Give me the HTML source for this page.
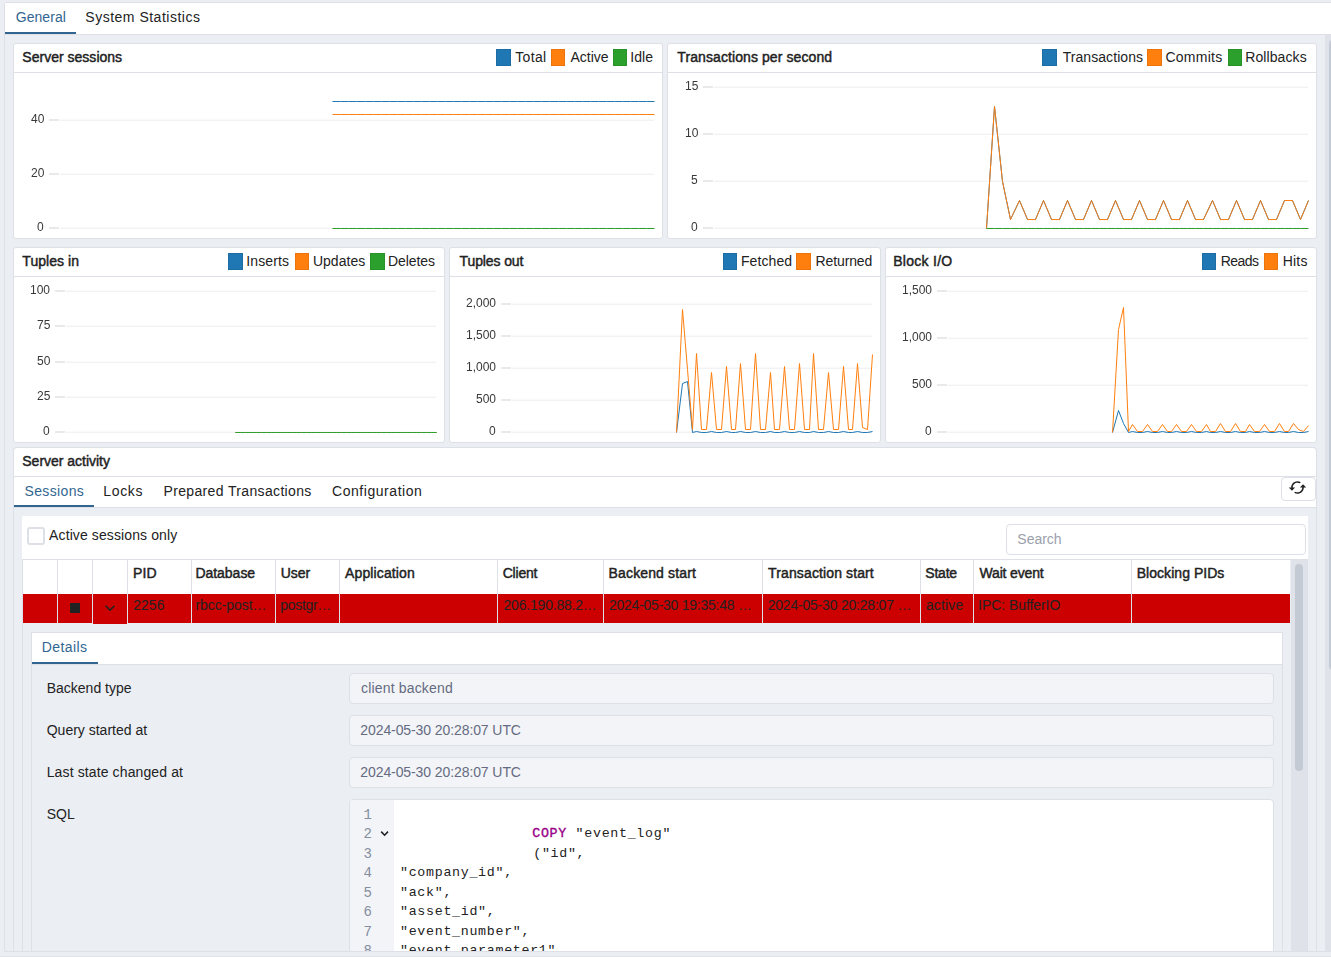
<!DOCTYPE html>
<html><head><meta charset="utf-8">
<style>
*{box-sizing:border-box}
html,body{margin:0;padding:0}
body{width:1331px;height:957px;overflow:hidden;position:relative;background:#ebeef3;font-family:"Liberation Sans",sans-serif;font-size:14px;color:#222}
.abs{position:absolute}
.t{position:absolute;white-space:nowrap;line-height:16px}
.panel{position:absolute;left:4px;top:2px;width:1340px;height:950px;border:1px solid #dde0e6;border-radius:2px;background:#ebeef3;overflow:hidden}
.tabbar{position:absolute;left:5px;top:3px;width:1326px;height:32px;background:#fff;border-bottom:1px solid #dde0e6}
.card{position:absolute;background:#fff;border:1px solid #dde0e6;border-radius:3px;box-sizing:content-box}
.chd{position:absolute;left:0;top:0;right:0;height:29px;border-bottom:1px solid #dde0e6}
.ttl{position:absolute;font-weight:normal;-webkit-text-stroke:0.45px #222;letter-spacing:-0.1px;line-height:16px;white-space:nowrap}
.sw{position:absolute;width:15px;height:17px;box-shadow:inset 0 0 0 1px rgba(0,0,0,0.08)}
.lt{position:absolute;line-height:16px;letter-spacing:0.3px;white-space:nowrap}
.ov{position:absolute;left:0;top:0;pointer-events:none}
.ax{position:absolute;font-size:12px;line-height:15px;color:#383838;white-space:nowrap;text-align:right;will-change:transform}
.tab{position:absolute;white-space:nowrap;line-height:16px;letter-spacing:0.3px}
.hd{position:absolute;white-space:nowrap;line-height:16px;font-weight:normal;-webkit-text-stroke:0.45px #222;letter-spacing:-0.1px}
.cell{position:absolute;white-space:nowrap;line-height:16px}
.vl{position:absolute;width:1px;background:#dde0e6}
.hl{position:absolute;height:1px;background:#dde0e6}
.field{position:absolute;left:349px;width:925px;height:31px;background:#f3f4f7;border:1px solid #dde0e6;border-radius:4px}
.fv{position:absolute;line-height:16px;color:#646b82;white-space:nowrap}
.lbl{position:absolute;line-height:16px;white-space:nowrap}
.code{position:absolute;font-family:"Liberation Mono",monospace;font-size:13.3px;line-height:19.47px;white-space:pre;color:#222;letter-spacing:0.7px}
.ln{position:absolute;font-family:"Liberation Mono",monospace;font-size:14px;line-height:19.47px;color:#848ea0;text-align:right;width:30px;white-space:pre}
</style></head><body>
<div class="panel"></div>
<div class="tabbar"></div>
<!-- top tabs -->
<div class="abs" style="left:5px;top:32px;width:71px;height:2px;background:#326690"></div>
<div id="tab_general" class="tab" style="left:15.71px;top:9px;letter-spacing:0.066px;color:#326690">General</div><div id="tab_sys" class="tab" style="left:85.30px;top:9px;letter-spacing:0.502px;">System Statistics</div>
<!-- page scrollbar -->
<div class="abs" style="left:1325px;top:35px;width:6px;height:916px;background:#dfe2e8"></div>
<div class="abs" style="left:1329px;top:39.5px;width:8px;height:630.5px;background:#c4cad3;border-radius:4px"></div>

<div class="card" style="left:13px;top:43px;width:648px;height:194px"><div class="chd"></div></div><div class="card" style="left:667px;top:43px;width:648px;height:194px"><div class="chd"></div></div><div class="card" style="left:13px;top:247px;width:430px;height:194px"><div class="chd"></div></div><div class="card" style="left:449px;top:247px;width:430px;height:194px"><div class="chd"></div></div><div class="card" style="left:885px;top:247px;width:430px;height:194px"><div class="chd"></div></div><div id="ttl1" class="ttl" style="left:22.30px;top:49px;letter-spacing:0.016px;">Server sessions</div><div id="ttl2" class="ttl" style="left:677.30px;top:49px;letter-spacing:0.091px;">Transactions per second</div><div id="ttl3" class="ttl" style="left:22.30px;top:253px;letter-spacing:0.050px;">Tuples in</div><div id="ttl4" class="ttl" style="left:459.61px;top:253px;letter-spacing:-0.124px;">Tuples out</div><div id="ttl5" class="ttl" style="left:893.21px;top:253px;letter-spacing:0.275px;">Block I/O</div><div class="sw" style="left:496px;width:15px;top:49px;background:#1f77b4"></div><div id="lg1a" class="lt" style="left:515.21px;top:49px;letter-spacing:0.350px;">Total</div><div class="sw" style="left:551px;width:14px;top:49px;background:#ff7f0e"></div><div id="lg1b" class="lt" style="left:570.50px;top:49px;letter-spacing:-0.020px;">Active</div><div class="sw" style="left:613px;width:14px;top:49px;background:#2ca02c"></div><div id="lg1c" class="lt" style="left:630.30px;top:49px;letter-spacing:0.034px;">Idle</div><div class="sw" style="left:1042px;width:15px;top:49px;background:#1f77b4"></div><div id="lg2a" class="lt" style="left:1062.71px;top:49px;letter-spacing:0.061px;">Transactions</div><div class="sw" style="left:1147px;width:15px;top:49px;background:#ff7f0e"></div><div id="lg2b" class="lt" style="left:1165.41px;top:49px;letter-spacing:0.269px;">Commits</div><div class="sw" style="left:1228px;width:14px;top:49px;background:#2ca02c"></div><div id="lg2c" class="lt" style="left:1245.30px;top:49px;letter-spacing:0.081px;">Rollbacks</div><div class="sw" style="left:228px;width:15px;top:253px;background:#1f77b4"></div><div id="lg3a" class="lt" style="left:246.30px;top:253px;letter-spacing:0.134px;">Inserts</div><div class="sw" style="left:295px;width:14px;top:253px;background:#ff7f0e"></div><div id="lg3b" class="lt" style="left:312.91px;top:253px;letter-spacing:0.031px;">Updates</div><div class="sw" style="left:370px;width:15px;top:253px;background:#2ca02c"></div><div id="lg3c" class="lt" style="left:388.11px;top:253px;letter-spacing:-0.101px;">Deletes</div><div class="sw" style="left:723px;width:14px;top:253px;background:#1f77b4"></div><div id="lg4a" class="lt" style="left:740.91px;top:253px;letter-spacing:0.102px;">Fetched</div><div class="sw" style="left:796px;width:15px;top:253px;background:#ff7f0e"></div><div id="lg4b" class="lt" style="left:815.61px;top:253px;letter-spacing:-0.128px;">Returned</div><div class="sw" style="left:1202px;width:14px;top:253px;background:#1f77b4"></div><div id="lg5a" class="lt" style="left:1220.80px;top:253px;letter-spacing:-0.550px;">Reads</div><div class="sw" style="left:1264px;width:14px;top:253px;background:#ff7f0e"></div><div id="lg5b" class="lt" style="left:1282.80px;top:253px;letter-spacing:0.167px;">Hits</div>

<!-- server activity card -->
<div class="card" style="left:13px;top:447px;width:1302px;height:520px;background:#ebeef3">
  <div class="chd" style="background:#fff;height:29px;border-radius:4px 4px 0 0"></div>
  <div class="abs" style="left:0;top:29px;width:1302px;height:31px;background:#fff;border-bottom:1px solid #dde0e6"></div>
</div>
<div class="abs" style="left:14px;top:505px;width:80px;height:2px;background:#326690"></div>
<div class="abs" style="left:1281px;top:477px;width:35px;height:24px;border:1px solid #dde0e6;border-radius:4px;background:#fff"></div>
<svg class="abs" style="left:1288.4px;top:478.4px" width="19" height="19" viewBox="0 0 24 24"><path fill="#222" d="M19 8l-4 4h3c0 3.31-2.69 6-6 6-1.01 0-1.97-.25-2.8-.7l-1.46 1.46C8.97 19.54 10.43 20 12 20c4.42 0 8-3.58 8-8h3l-4-4zM6 12c0-3.31 2.69-6 6-6 1.01 0 1.970.25 2.8.7l1.46-1.46C15.03 4.46 13.57 4 12 4c-4.42 0-8 3.58-8 8H1l4 4 4-4H6z"/></svg>

<!-- toolbar panel -->
<div class="abs" style="left:22px;top:516px;width:1286px;height:43px;background:#fff"></div>
<div class="abs" style="left:27px;top:527px;width:18px;height:18px;border:2px solid #dde0e6;border-radius:3px;background:#fff"></div>
<div class="abs" style="left:1006px;top:524px;width:300px;height:31px;border:1px solid #dde0e6;border-radius:4px;background:#fff"></div>


<!-- table -->
<div class="abs" style="left:22px;top:559px;width:1286px;height:400px;background:#ebeef3;border-left:1px solid #dde0e6;border-top:1px solid #dde0e6"></div>
<div class="abs" style="left:23px;top:560px;width:1267px;height:34px;background:#fff"></div>
<div class="abs" style="left:23px;top:594px;width:1267px;height:29px;background:#cc0000"></div>
<div class="abs" style="left:93px;top:594px;width:34px;height:30px;background:#cc0000"></div>
<!-- inner scrollbar -->
<div class="abs" style="left:1291px;top:560px;width:16px;height:400px;background:#dfe3e9;border-right:1px solid #dde0e6;box-sizing:content-box"></div>
<div class="abs" style="left:1295px;top:564px;width:8px;height:207px;background:#c4cad3;border-radius:4px"></div>
<div class="vl" style="left:57px;top:560px;height:63px"></div><div class="vl" style="left:92px;top:560px;height:63px"></div><div class="vl" style="left:127px;top:560px;height:63px"></div><div class="vl" style="left:191px;top:560px;height:63px"></div><div class="vl" style="left:275px;top:560px;height:63px"></div><div class="vl" style="left:339px;top:560px;height:63px"></div><div class="vl" style="left:497px;top:560px;height:63px"></div><div class="vl" style="left:603px;top:560px;height:63px"></div><div class="vl" style="left:762px;top:560px;height:63px"></div><div class="vl" style="left:920px;top:560px;height:63px"></div><div class="vl" style="left:973px;top:560px;height:63px"></div><div class="vl" style="left:1131px;top:560px;height:63px"></div><div id="h_pid" class="hd" style="left:132.91px;top:565px;letter-spacing:0.200px;">PID</div><div id="h_db" class="hd" style="left:195.41px;top:565px;letter-spacing:-0.029px;">Database</div><div id="h_user" class="hd" style="left:280.71px;top:565px;letter-spacing:0.000px;">User</div><div id="h_app" class="hd" style="left:345.11px;top:565px;letter-spacing:0.110px;">Application</div><div id="h_client" class="hd" style="left:502.71px;top:565px;letter-spacing:-0.200px;">Client</div><div id="h_bs" class="hd" style="left:608.61px;top:565px;letter-spacing:0.135px;">Backend start</div><div id="h_ts" class="hd" style="left:768.11px;top:565px;letter-spacing:0.119px;">Transaction start</div><div id="h_state" class="hd" style="left:925.30px;top:565px;letter-spacing:-0.225px;">State</div><div id="h_wait" class="hd" style="left:979.50px;top:565px;letter-spacing:-0.156px;">Wait event</div><div id="h_block" class="hd" style="left:1136.71px;top:565px;letter-spacing:0.042px;">Blocking PIDs</div><div id="r_pid" class="cell" style="left:133.30px;top:597px;letter-spacing:0.000px;">2256</div><div id="r_db" class="cell" style="left:195.41px;top:597px;letter-spacing:-0.042px;">rbcc-post…</div><div id="r_user" class="cell" style="left:280.21px;top:597px;letter-spacing:-0.297px;">postgr…</div><div id="r_client" class="cell" style="left:503.50px;top:597px;letter-spacing:-0.199px;">206.190.88.2…</div><div id="r_bs" class="cell" style="left:609.00px;top:597px;letter-spacing:-0.250px;">2024-05-30 19:35:48 …</div><div id="r_ts" class="cell" style="left:767.71px;top:597px;letter-spacing:-0.210px;">2024-05-30 20:28:07 …</div><div id="r_state" class="cell" style="left:925.91px;top:597px;letter-spacing:0.160px;">active</div><div id="r_wait" class="cell" style="left:978.11px;top:597px;letter-spacing:-0.065px;">IPC: BufferIO</div>
<div class="abs" style="left:70px;top:603px;width:10px;height:10px;background:#222"></div>
<svg class="abs" style="left:100px;top:598px" width="20" height="20" viewBox="0 0 24 24"><path fill="#222" d="M7.41 8.59 12 13.17l4.59-4.58L18 10l-6 6-6-6 1.41-1.41z"/></svg>

<!-- details panel -->
<div class="abs" style="left:31px;top:632px;width:1252px;height:400px;border:1px solid #dde0e6;background:#ebeef3"></div>
<div class="abs" style="left:32px;top:633px;width:1250px;height:32px;background:#fff;border-bottom:1px solid #dde0e6"></div>
<div class="abs" style="left:32px;top:662px;width:66px;height:2px;background:#326690"></div>


<div class="field" style="top:673px"></div>

<div class="field" style="top:715px"></div>

<div class="field" style="top:757px"></div>

<div class="abs" style="left:349px;top:799px;width:925px;height:200px;border:1px solid #dde0e6;border-radius:4px;background:#fff;overflow:hidden">
  <div class="abs" style="left:0;top:0;width:44px;height:200px;background:#f3f4f7"></div>
</div>
<div class="ln" style="left:342px;top:806px">1
2
3
4
5
6
7
8</div>
<svg class="abs" style="left:376px;top:826px" width="16" height="16" viewBox="376 826 16 16"><polyline fill="none" stroke="#222" stroke-width="1.6" points="381.2,831.6 384.6,835.2 388,831.6"/></svg>
<div class="code" style="left:400px;top:805px">
               <span style="color:#990088;margin-left:2px;-webkit-text-stroke:0.35px #990088">COPY</span> "event_log"
               <span style="margin-left:3px">("id",</span>
"company_id",
"ack",
"asset_id",
"event_number",
"event_parameter1",</div>

<div id="ttl_sa" class="ttl" style="left:22.30px;top:453px;letter-spacing:-0.020px;">Server activity</div><div id="tab_sess" class="tab" style="left:24.50px;top:483px;letter-spacing:0.361px;color:#326690">Sessions</div><div id="tab_locks" class="tab" style="left:103.30px;top:483px;letter-spacing:0.650px;">Locks</div><div id="tab_prep" class="tab" style="left:163.50px;top:483px;letter-spacing:0.350px;">Prepared Transactions</div><div id="tab_conf" class="tab" style="left:332.00px;top:483px;letter-spacing:0.550px;">Configuration</div><div id="t_aso" class="t" style="left:49.11px;top:527px;letter-spacing:0.106px;">Active sessions only</div><div id="t_search" class="t" style="left:1017.30px;top:531px;letter-spacing:0.000px;color:#9a9fab">Search</div>
<div id="tab_det" class="tab" style="left:41.71px;top:639px;letter-spacing:0.435px;color:#326690">Details</div><div id="l_bt" class="lbl" style="left:46.71px;top:680px;letter-spacing:-0.000px;">Backend type</div><div id="l_qs" class="lbl" style="left:46.71px;top:722px;letter-spacing:-0.000px;">Query started at</div><div id="l_ls" class="lbl" style="left:46.71px;top:764px;letter-spacing:0.120px;">Last state changed at</div><div id="l_sql" class="lbl" style="left:46.71px;top:806px;letter-spacing:0.000px;">SQL</div><div id="v_bt" class="fv" style="left:361.00px;top:680px;letter-spacing:0.167px;">client backend</div><div id="v_qs" class="fv" style="left:360.30px;top:722px;letter-spacing:-0.091px;">2024-05-30 20:28:07 UTC</div><div id="v_ls" class="fv" style="left:360.30px;top:764px;letter-spacing:-0.091px;">2024-05-30 20:28:07 UTC</div>
<svg class="ov" width="1331" height="957" viewBox="0 0 1331 957"><rect x="49" y="119" width="10" height="2" fill="#e9e9e9"/><rect x="60" y="120" width="594" height="1" fill="#f1f2f5"/><rect x="60" y="119" width="594" height="1" fill="#fafafb"/><rect x="49" y="173" width="10" height="2" fill="#e9e9e9"/><rect x="60" y="174" width="594" height="1" fill="#f1f2f5"/><rect x="60" y="173" width="594" height="1" fill="#fafafb"/><rect x="49" y="227" width="10" height="2" fill="#e9e9e9"/><rect x="60" y="228" width="594" height="1" fill="#f1f2f5"/><rect x="60" y="227" width="594" height="1" fill="#fafafb"/><polyline fill="none" stroke="#1f77b4" stroke-width="1" stroke-linejoin="round" points="332.5,101.5 340.5,101.5 348.5,101.5 356.5,101.5 365.5,101.5 373.5,101.5 381.5,101.5 389.5,101.5 397.5,101.5 405.5,101.5 413.5,101.5 421.5,101.5 429.5,101.5 437.5,101.5 445.5,101.5 453.5,101.5 461.5,101.5 469.5,101.5 477.5,101.5 485.5,101.5 493.5,101.5 501.5,101.5 509.5,101.5 517.5,101.5 525.5,101.5 533.5,101.5 541.5,101.5 549.5,101.5 558.5,101.5 566.5,101.5 574.5,101.5 582.5,101.5 590.5,101.5 598.5,101.5 606.5,101.5 614.5,101.5 622.5,101.5 630.5,101.5 638.5,101.5 646.5,101.5 654.5,101.5"/><polyline fill="none" stroke="#ff7f0e" stroke-width="1" stroke-linejoin="round" points="332.5,114.5 340.5,114.5 348.5,114.5 356.5,114.5 365.5,114.5 373.5,114.5 381.5,114.5 389.5,114.5 397.5,114.5 405.5,114.5 413.5,114.5 421.5,114.5 429.5,114.5 437.5,114.5 445.5,114.5 453.5,114.5 461.5,114.5 469.5,114.5 477.5,114.5 485.5,114.5 493.5,114.5 501.5,114.5 509.5,114.5 517.5,114.5 525.5,114.5 533.5,114.5 541.5,114.5 549.5,114.5 558.5,114.5 566.5,114.5 574.5,114.5 582.5,114.5 590.5,114.5 598.5,114.5 606.5,114.5 614.5,114.5 622.5,114.5 630.5,114.5 638.5,114.5 646.5,114.5 654.5,114.5"/><polyline fill="none" stroke="#2ca02c" stroke-width="1" stroke-linejoin="round" points="332.5,228.5 340.5,228.5 348.5,228.5 356.5,228.5 365.5,228.5 373.5,228.5 381.5,228.5 389.5,228.5 397.5,228.5 405.5,228.5 413.5,228.5 421.5,228.5 429.5,228.5 437.5,228.5 445.5,228.5 453.5,228.5 461.5,228.5 469.5,228.5 477.5,228.5 485.5,228.5 493.5,228.5 501.5,228.5 509.5,228.5 517.5,228.5 525.5,228.5 533.5,228.5 541.5,228.5 549.5,228.5 558.5,228.5 566.5,228.5 574.5,228.5 582.5,228.5 590.5,228.5 598.5,228.5 606.5,228.5 614.5,228.5 622.5,228.5 630.5,228.5 638.5,228.5 646.5,228.5 654.5,228.5"/><rect x="703" y="86" width="10" height="2" fill="#e9e9e9"/><rect x="714" y="87" width="594" height="1" fill="#f1f2f5"/><rect x="714" y="86" width="594" height="1" fill="#fafafb"/><rect x="703" y="133" width="10" height="2" fill="#e9e9e9"/><rect x="714" y="134" width="594" height="1" fill="#f1f2f5"/><rect x="714" y="133" width="594" height="1" fill="#fafafb"/><rect x="703" y="180" width="10" height="2" fill="#e9e9e9"/><rect x="714" y="181" width="594" height="1" fill="#f1f2f5"/><rect x="714" y="180" width="594" height="1" fill="#fafafb"/><rect x="703" y="227" width="10" height="2" fill="#e9e9e9"/><rect x="714" y="228" width="594" height="1" fill="#f1f2f5"/><rect x="714" y="227" width="594" height="1" fill="#fafafb"/><polyline fill="none" stroke="#1f77b4" stroke-width="1" stroke-linejoin="round" points="986.5,228.5 994.5,106.5 1002.5,181.5 1010.5,219.5 1019.5,200.5 1027.5,219.5 1035.5,219.5 1043.5,200.5 1051.5,219.5 1059.5,219.5 1067.5,200.5 1075.5,219.5 1083.5,219.5 1091.5,200.5 1099.5,219.5 1107.5,219.5 1115.5,200.5 1123.5,219.5 1131.5,219.5 1139.5,200.5 1147.5,219.5 1155.5,219.5 1163.5,200.5 1171.5,219.5 1179.5,219.5 1187.5,200.5 1195.5,219.5 1203.5,219.5 1212.5,200.5 1220.5,219.5 1228.5,219.5 1236.5,200.5 1244.5,219.5 1252.5,219.5 1260.5,200.5 1268.5,219.5 1276.5,219.5 1284.5,200.5 1292.5,200.5 1300.5,219.5 1308.5,200.5"/><polyline fill="none" stroke="#ff7f0e" stroke-width="1" stroke-linejoin="round" points="986.5,228.5 994.5,106.5 1002.5,181.5 1010.5,219.5 1019.5,200.5 1027.5,219.5 1035.5,219.5 1043.5,200.5 1051.5,219.5 1059.5,219.5 1067.5,200.5 1075.5,219.5 1083.5,219.5 1091.5,200.5 1099.5,219.5 1107.5,219.5 1115.5,200.5 1123.5,219.5 1131.5,219.5 1139.5,200.5 1147.5,219.5 1155.5,219.5 1163.5,200.5 1171.5,219.5 1179.5,219.5 1187.5,200.5 1195.5,219.5 1203.5,219.5 1212.5,200.5 1220.5,219.5 1228.5,219.5 1236.5,200.5 1244.5,219.5 1252.5,219.5 1260.5,200.5 1268.5,219.5 1276.5,219.5 1284.5,200.5 1292.5,200.5 1300.5,219.5 1308.5,200.5"/><polyline fill="none" stroke="#2ca02c" stroke-width="1" stroke-linejoin="round" points="986.5,228.5 994.5,228.5 1002.5,228.5 1010.5,228.5 1019.5,228.5 1027.5,228.5 1035.5,228.5 1043.5,228.5 1051.5,228.5 1059.5,228.5 1067.5,228.5 1075.5,228.5 1083.5,228.5 1091.5,228.5 1099.5,228.5 1107.5,228.5 1115.5,228.5 1123.5,228.5 1131.5,228.5 1139.5,228.5 1147.5,228.5 1155.5,228.5 1163.5,228.5 1171.5,228.5 1179.5,228.5 1187.5,228.5 1195.5,228.5 1203.5,228.5 1212.5,228.5 1220.5,228.5 1228.5,228.5 1236.5,228.5 1244.5,228.5 1252.5,228.5 1260.5,228.5 1268.5,228.5 1276.5,228.5 1284.5,228.5 1292.5,228.5 1300.5,228.5 1308.5,228.5"/><rect x="55" y="290" width="10" height="2" fill="#e9e9e9"/><rect x="66" y="291" width="370" height="1" fill="#f1f2f5"/><rect x="66" y="290" width="370" height="1" fill="#fafafb"/><rect x="55" y="325" width="10" height="2" fill="#e9e9e9"/><rect x="66" y="326" width="370" height="1" fill="#f1f2f5"/><rect x="66" y="325" width="370" height="1" fill="#fafafb"/><rect x="55" y="361" width="10" height="2" fill="#e9e9e9"/><rect x="66" y="362" width="370" height="1" fill="#f1f2f5"/><rect x="66" y="361" width="370" height="1" fill="#fafafb"/><rect x="55" y="396" width="10" height="2" fill="#e9e9e9"/><rect x="66" y="397" width="370" height="1" fill="#f1f2f5"/><rect x="66" y="396" width="370" height="1" fill="#fafafb"/><rect x="55" y="431" width="10" height="2" fill="#e9e9e9"/><rect x="66" y="432" width="370" height="1" fill="#f1f2f5"/><rect x="66" y="431" width="370" height="1" fill="#fafafb"/><polyline fill="none" stroke="#1f77b4" stroke-width="1" stroke-linejoin="round" points="235.5,432.5 240.5,432.5 245.5,432.5 250.5,432.5 256.5,432.5 261.5,432.5 266.5,432.5 271.5,432.5 276.5,432.5 281.5,432.5 286.5,432.5 291.5,432.5 296.5,432.5 301.5,432.5 306.5,432.5 311.5,432.5 316.5,432.5 321.5,432.5 326.5,432.5 331.5,432.5 336.5,432.5 341.5,432.5 346.5,432.5 351.5,432.5 356.5,432.5 361.5,432.5 366.5,432.5 371.5,432.5 376.5,432.5 381.5,432.5 386.5,432.5 391.5,432.5 396.5,432.5 401.5,432.5 406.5,432.5 411.5,432.5 416.5,432.5 421.5,432.5 426.5,432.5 431.5,432.5 436.5,432.5"/><polyline fill="none" stroke="#ff7f0e" stroke-width="1" stroke-linejoin="round" points="235.5,432.5 240.5,432.5 245.5,432.5 250.5,432.5 256.5,432.5 261.5,432.5 266.5,432.5 271.5,432.5 276.5,432.5 281.5,432.5 286.5,432.5 291.5,432.5 296.5,432.5 301.5,432.5 306.5,432.5 311.5,432.5 316.5,432.5 321.5,432.5 326.5,432.5 331.5,432.5 336.5,432.5 341.5,432.5 346.5,432.5 351.5,432.5 356.5,432.5 361.5,432.5 366.5,432.5 371.5,432.5 376.5,432.5 381.5,432.5 386.5,432.5 391.5,432.5 396.5,432.5 401.5,432.5 406.5,432.5 411.5,432.5 416.5,432.5 421.5,432.5 426.5,432.5 431.5,432.5 436.5,432.5"/><polyline fill="none" stroke="#2ca02c" stroke-width="1" stroke-linejoin="round" points="235.5,432.5 240.5,432.5 245.5,432.5 250.5,432.5 256.5,432.5 261.5,432.5 266.5,432.5 271.5,432.5 276.5,432.5 281.5,432.5 286.5,432.5 291.5,432.5 296.5,432.5 301.5,432.5 306.5,432.5 311.5,432.5 316.5,432.5 321.5,432.5 326.5,432.5 331.5,432.5 336.5,432.5 341.5,432.5 346.5,432.5 351.5,432.5 356.5,432.5 361.5,432.5 366.5,432.5 371.5,432.5 376.5,432.5 381.5,432.5 386.5,432.5 391.5,432.5 396.5,432.5 401.5,432.5 406.5,432.5 411.5,432.5 416.5,432.5 421.5,432.5 426.5,432.5 431.5,432.5 436.5,432.5"/><rect x="501" y="303" width="10" height="2" fill="#e9e9e9"/><rect x="512" y="304" width="360" height="1" fill="#f1f2f5"/><rect x="512" y="303" width="360" height="1" fill="#fafafb"/><rect x="501" y="335" width="10" height="2" fill="#e9e9e9"/><rect x="512" y="336" width="360" height="1" fill="#f1f2f5"/><rect x="512" y="335" width="360" height="1" fill="#fafafb"/><rect x="501" y="367" width="10" height="2" fill="#e9e9e9"/><rect x="512" y="368" width="360" height="1" fill="#f1f2f5"/><rect x="512" y="367" width="360" height="1" fill="#fafafb"/><rect x="501" y="399" width="10" height="2" fill="#e9e9e9"/><rect x="512" y="400" width="360" height="1" fill="#f1f2f5"/><rect x="512" y="399" width="360" height="1" fill="#fafafb"/><rect x="501" y="431" width="10" height="2" fill="#e9e9e9"/><rect x="512" y="432" width="360" height="1" fill="#f1f2f5"/><rect x="512" y="431" width="360" height="1" fill="#fafafb"/><polyline fill="none" stroke="#1f77b4" stroke-width="1" stroke-linejoin="round" points="676.5,432.5 682.5,383.5 687.5,381.5 692.5,432.5 696.5,431.5 701.5,432.5 706.5,432.5 711.5,431.5 716.5,432.5 721.5,432.5 726.5,431.5 731.5,432.5 735.5,432.5 740.5,431.5 745.5,432.5 750.5,432.5 755.5,431.5 760.5,432.5 765.5,432.5 770.5,431.5 774.5,432.5 779.5,432.5 784.5,431.5 789.5,432.5 794.5,432.5 799.5,431.5 804.5,432.5 809.5,432.5 813.5,431.5 818.5,432.5 823.5,432.5 828.5,431.5 833.5,432.5 838.5,432.5 843.5,431.5 848.5,432.5 852.5,432.5 857.5,431.5 862.5,432.5 867.5,432.5 872.5,431.5"/><polyline fill="none" stroke="#ff7f0e" stroke-width="1" stroke-linejoin="round" points="676.5,432.5 682.5,309.5 687.5,369.5 692.5,429.5 696.5,353.5 701.5,429.5 706.5,429.5 711.5,372.5 716.5,429.5 721.5,429.5 726.5,366.5 731.5,429.5 735.5,429.5 740.5,363.5 745.5,429.5 750.5,429.5 755.5,353.5 760.5,429.5 765.5,429.5 770.5,372.5 774.5,429.5 779.5,429.5 784.5,366.5 789.5,429.5 794.5,429.5 799.5,363.5 804.5,429.5 809.5,429.5 813.5,353.5 818.5,429.5 823.5,429.5 828.5,372.5 833.5,429.5 838.5,429.5 843.5,366.5 848.5,429.5 852.5,429.5 857.5,363.5 862.5,427.5 867.5,429.5 872.5,354.5"/><rect x="937" y="290" width="10" height="2" fill="#e9e9e9"/><rect x="948" y="291" width="360" height="1" fill="#f1f2f5"/><rect x="948" y="290" width="360" height="1" fill="#fafafb"/><rect x="937" y="337" width="10" height="2" fill="#e9e9e9"/><rect x="948" y="338" width="360" height="1" fill="#f1f2f5"/><rect x="948" y="337" width="360" height="1" fill="#fafafb"/><rect x="937" y="384" width="10" height="2" fill="#e9e9e9"/><rect x="948" y="385" width="360" height="1" fill="#f1f2f5"/><rect x="948" y="384" width="360" height="1" fill="#fafafb"/><rect x="937" y="431" width="10" height="2" fill="#e9e9e9"/><rect x="948" y="432" width="360" height="1" fill="#f1f2f5"/><rect x="948" y="431" width="360" height="1" fill="#fafafb"/><polyline fill="none" stroke="#1f77b4" stroke-width="1" stroke-linejoin="round" points="1112.5,432.5 1118.5,410.5 1123.5,423.5 1128.5,432.5 1132.5,431.5 1137.5,432.5 1142.5,432.5 1147.5,431.5 1152.5,432.5 1157.5,432.5 1162.5,431.5 1167.5,432.5 1171.5,432.5 1176.5,431.5 1181.5,432.5 1186.5,432.5 1191.5,431.5 1196.5,432.5 1201.5,432.5 1206.5,431.5 1210.5,432.5 1215.5,432.5 1220.5,431.5 1225.5,432.5 1230.5,432.5 1235.5,431.5 1240.5,432.5 1245.5,432.5 1249.5,431.5 1254.5,432.5 1259.5,432.5 1264.5,431.5 1269.5,432.5 1274.5,432.5 1279.5,431.5 1284.5,432.5 1288.5,432.5 1293.5,431.5 1298.5,432.5 1303.5,432.5 1308.5,431.5"/><polyline fill="none" stroke="#ff7f0e" stroke-width="1" stroke-linejoin="round" points="1112.5,432.5 1118.5,329.5 1123.5,307.5 1128.5,431.5 1132.5,424.5 1137.5,431.5 1142.5,431.5 1147.5,424.5 1152.5,431.5 1157.5,431.5 1162.5,424.5 1167.5,431.5 1171.5,431.5 1176.5,424.5 1181.5,431.5 1186.5,431.5 1191.5,424.5 1196.5,431.5 1201.5,431.5 1206.5,424.5 1210.5,431.5 1215.5,431.5 1220.5,423.5 1225.5,431.5 1230.5,431.5 1235.5,423.5 1240.5,431.5 1245.5,431.5 1249.5,424.5 1254.5,431.5 1259.5,431.5 1264.5,424.5 1269.5,431.5 1274.5,431.5 1279.5,423.5 1284.5,431.5 1288.5,431.5 1293.5,423.5 1298.5,429.5 1303.5,431.5 1308.5,425.5"/></svg>
<div class="ax" style="right:1287px;top:112.3px">40</div><div class="ax" style="right:1287px;top:166.3px">20</div><div class="ax" style="right:1287px;top:220.3px">0</div><div class="ax" style="right:633px;top:79.3px">15</div><div class="ax" style="right:633px;top:126.3px">10</div><div class="ax" style="right:633px;top:173.3px">5</div><div class="ax" style="right:633px;top:220.3px">0</div><div class="ax" style="right:1281px;top:283.3px">100</div><div class="ax" style="right:1281px;top:318.3px">75</div><div class="ax" style="right:1281px;top:354.3px">50</div><div class="ax" style="right:1281px;top:389.3px">25</div><div class="ax" style="right:1281px;top:424.3px">0</div><div class="ax" style="right:835px;top:296.3px">2,000</div><div class="ax" style="right:835px;top:328.3px">1,500</div><div class="ax" style="right:835px;top:360.3px">1,000</div><div class="ax" style="right:835px;top:392.3px">500</div><div class="ax" style="right:835px;top:424.3px">0</div><div class="ax" style="right:399px;top:283.3px">1,500</div><div class="ax" style="right:399px;top:330.3px">1,000</div><div class="ax" style="right:399px;top:377.3px">500</div><div class="ax" style="right:399px;top:424.3px">0</div>
<!-- bottom cover -->
<div class="abs" style="left:0;top:951px;width:1331px;height:6px;background:#ebeef3"></div>
<div class="abs" style="left:4px;top:951px;width:1327px;height:1px;background:#dde0e6;border-bottom-left-radius:2px"></div>
<div class="abs" style="left:0;top:956px;width:1331px;height:1px;background:#e0e3e8"></div>
</body></html>
